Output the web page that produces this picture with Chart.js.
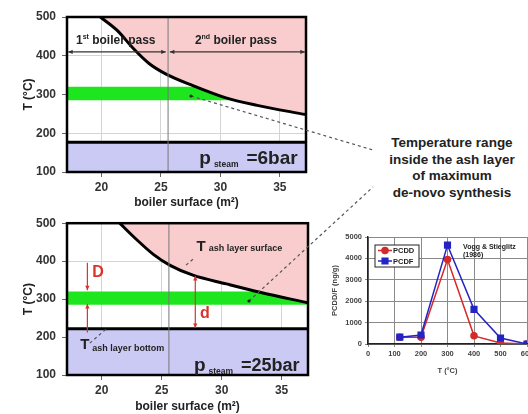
<!DOCTYPE html>
<html>
<head>
<meta charset="utf-8">
<script src="https://cdn.jsdelivr.net/npm/chart.js@4.4.0/dist/chart.umd.min.js"></script>
<style>
  html, body { margin: 0; padding: 0; background: #fff; }
  body { width: 528px; height: 414px; overflow: hidden; position: relative; font-family: 'Liberation Sans', Arial, sans-serif; }
  .box { position: absolute; }
  #note { position: absolute; left: 372px; top: 135px; width: 160px; text-align: center; font-weight: bold; font-size: 13.5px; line-height: 16.5px; color: #222; }
  #links { position: absolute; left: 0; top: 0; pointer-events: none; }
</style>
</head>
<body>
<div class="box" style="left:0;top:0;width:320px;height:214px"><canvas id="top"></canvas></div>
<div class="box" style="left:0;top:210px;width:320px;height:208px"><canvas id="bottom"></canvas></div>
<div class="box" style="left:328px;top:226px;width:210px;height:151px"><canvas id="pcdd"></canvas></div>
<div id="note">Temperature range<br>inside the ash layer<br>of maximum<br>de-novo synthesis</div>
<svg id="links" width="528" height="414">
  <g stroke="#555" stroke-width="1.2" stroke-dasharray="3 3" fill="none">
    <line x1="191" y1="96" x2="373" y2="150"/>
    <line x1="249" y1="301" x2="373" y2="187"/>
  </g>
  <circle cx="191" cy="96" r="1.6" fill="#222"/>
  <circle cx="249" cy="301" r="1.6" fill="#222"/>
</svg>
<script>
// boiler panels
const surfaceRange = [17.1, 37.2];
const surfaceTicks = [20, 25, 30, 35];
const tempTicks = [100, 200, 300, 400, 500];
const passBoundary = 25.6;
const synthesisBand = [285, 320];

// 6 bar
const curve6X = [19.9, 21.3, 22.7, 24.0, 25.35, 27.6, 30.4, 33.1, 37.2];
const curve6T = [500, 466, 418, 380, 354, 324, 292, 272, 248];
const steam6Limit = 177;

// 25 bar
const curve25X = [21.5, 22.9, 24.3, 25.7, 27.6, 30.4, 33.2, 37.2];
const curve25T = [500, 457, 418, 389, 363, 340, 318, 290];
const steam25Limit = 222;

// Vogg & Stieglitz (1986)
const pcddTemp = [120, 200, 300, 400, 500, 600];
const pcddValues = [320, 310, 3950, 380, 50, 0];
const pcdfValues = [320, 420, 4620, 1620, 280, 0];
const pcddYTicks = [0, 1000, 2000, 3000, 4000, 5000];
const pcddXTicks = [0, 100, 200, 300, 400, 500, 600];

const FONT = "'Liberation Sans', Arial, sans-serif";
const PINK = '#f9cdcd';
const LAVENDER = '#cacaf4';
const GREEN = '#1ee61e';
const RED = '#d8342c';

function rich(ctx, parts, x, y, align) {
  let w = 0;
  parts.forEach(p => {
    ctx.font = `bold ${p.size}px ${FONT}`;
    p.w = ctx.measureText(p.t).width + (p.gap || 0);
    w += p.w;
  });
  let cx = align === 'right' ? x - w : align === 'center' ? x - w / 2 : x;
  ctx.textAlign = 'left';
  ctx.textBaseline = 'alphabetic';
  parts.forEach(p => {
    ctx.font = `bold ${p.size}px ${FONT}`;
    ctx.fillStyle = p.color || '#222';
    ctx.fillText(p.t, cx, y + (p.dy || 0));
    cx += p.w;
  });
}

function arrow(ctx, x1, y1, x2, y2, color, startHead, endHead) {
  ctx.save();
  ctx.strokeStyle = color;
  ctx.fillStyle = color;
  ctx.lineWidth = 1.2;
  ctx.setLineDash([]);
  ctx.beginPath();
  ctx.moveTo(x1, y1);
  ctx.lineTo(x2, y2);
  ctx.stroke();
  const head = (hx, hy, ang) => {
    ctx.beginPath();
    ctx.moveTo(hx, hy);
    ctx.lineTo(hx - 5 * Math.cos(ang - 0.45), hy - 5 * Math.sin(ang - 0.45));
    ctx.lineTo(hx - 5 * Math.cos(ang + 0.45), hy - 5 * Math.sin(ang + 0.45));
    ctx.closePath();
    ctx.fill();
  };
  const a = Math.atan2(y2 - y1, x2 - x1);
  if (endHead) head(x2, y2, a);
  if (startHead) head(x1, y1, a + Math.PI);
  ctx.restore();
}

function dashed(ctx, x1, y1, x2, y2) {
  ctx.save();
  ctx.strokeStyle = '#555';
  ctx.lineWidth = 1.2;
  ctx.setLineDash([3, 3]);
  ctx.beginPath();
  ctx.moveTo(x1, y1);
  ctx.lineTo(x2, y2);
  ctx.stroke();
  ctx.restore();
}

function notesPlugin(draw) {
  return {
    id: 'notes',
    afterDatasetsDraw(chart) {
      const { ctx, chartArea: a } = chart;
      ctx.save();
      ctx.strokeStyle = '#000';
      ctx.lineWidth = 2.5;
      ctx.strokeRect(a.left, a.top, a.right - a.left, a.bottom - a.top);
      ctx.restore();
      const px = v => chart.scales.x.getPixelForValue(v);
      const py = v => chart.scales.y.getPixelForValue(v);
      ctx.save();
      draw(ctx, px, py);
      ctx.restore();
    }
  };
}

function panel(id, curveX, curveT, steamLimit, pad, xHeight, draw) {
  const line = (x0, x1, y) => [{ x: x0, y: y }, { x: x1, y: y }];
  return new Chart(document.getElementById(id), {
    type: 'line',
    data: {
      datasets: [
        {
          data: [{ x: passBoundary, y: tempTicks[0] }, { x: passBoundary, y: tempTicks[tempTicks.length - 1] }],
          borderColor: '#777', borderWidth: 1, pointRadius: 0, fill: false
        },
        {
          data: curveX.map((x, i) => ({ x: x, y: curveT[i] })),
          borderColor: '#000', borderWidth: 3, pointRadius: 0,
          cubicInterpolationMode: 'monotone',
          fill: 'end', backgroundColor: PINK
        },
        {
          data: line(surfaceRange[0], surfaceRange[1], steamLimit),
          borderColor: '#000', borderWidth: 3, pointRadius: 0,
          fill: 'start', backgroundColor: LAVENDER
        },
        {
          data: line(surfaceRange[0], surfaceRange[1], synthesisBand[1]),
          borderColor: 'rgba(0,0,0,0)', borderWidth: 0, pointRadius: 0,
          fill: { value: synthesisBand[0] }, backgroundColor: GREEN
        }
      ]
    },
    options: {
      responsive: true,
      maintainAspectRatio: false,
      animation: false,
      layout: { padding: pad },
      plugins: { legend: { display: false }, tooltip: { enabled: false } },
      scales: {
        x: {
          type: 'linear',
          min: surfaceRange[0], max: surfaceRange[1],
          afterBuildTicks: s => { s.ticks = surfaceTicks.map(v => ({ value: v })); },
          afterFit: s => { s.height = xHeight; },
          grid: { color: '#d4d4d4', tickLength: 5, tickColor: '#666' },
          border: { color: '#000', width: 2 },
          ticks: { color: '#333', padding: 3, font: { family: FONT, size: 12, weight: 'bold' } },
          title: { display: true, text: 'boiler surface (m²)', color: '#222', font: { family: FONT, size: 12, weight: 'bold' } }
        },
        y: {
          min: tempTicks[0], max: tempTicks[tempTicks.length - 1],
          afterBuildTicks: s => { s.ticks = tempTicks.map(v => ({ value: v })); },
          afterFit: s => { s.width = 50; },
          grid: { color: '#d4d4d4', tickLength: 5, tickColor: '#666' },
          border: { color: '#000', width: 2 },
          ticks: { color: '#333', padding: 6, font: { family: FONT, size: 12, weight: 'bold' } },
          title: { display: true, text: 'T (°C)', color: '#222', font: { family: FONT, size: 12, weight: 'bold' } }
        }
      }
    },
    plugins: [notesPlugin(draw)]
  });
}

panel('top', curve6X, curve6T, steam6Limit, { top: 17, right: 14, left: 17, bottom: 0 }, 42, (ctx, px, py) => {
  rich(ctx, [{ t: '1', size: 12 }, { t: 'st', size: 7, dy: -5 }, { t: ' boiler pass', size: 12 }], px(21.2), py(440) + 4, 'center');
  rich(ctx, [{ t: '2', size: 12 }, { t: 'nd', size: 7, dy: -5 }, { t: ' boiler pass', size: 12 }], px(31.3), py(440) + 4, 'center');
  arrow(ctx, px(17.2), py(410), px(25.4), py(410), '#333', true, true);
  arrow(ctx, px(25.75), py(410), px(37.1), py(410), '#333', true, true);
  rich(ctx, [{ t: 'p', size: 19, gap: 3 }, { t: 'steam', size: 8.5, dy: 3, gap: 8 }, { t: '=6bar', size: 19 }], px(36.5), py(120), 'right');
});

panel('bottom', curve25X, curve25T, steam25Limit, { top: 12, right: 12, left: 17, bottom: 0 }, 43, (ctx, px, py) => {
  rich(ctx, [{ t: 'T', size: 15, gap: 3 }, { t: 'ash layer surface', size: 9 }], px(27.9), py(427), 'left');
  dashed(ctx, px(27.6), py(405), px(26.9), py(386));
  rich(ctx, [{ t: 'T', size: 15, gap: 3 }, { t: 'ash layer bottom', size: 9, dy: 2 }], px(18.2), py(168), 'left');
  dashed(ctx, px(19.0), py(184), px(20.4), py(222));
  arrow(ctx, px(18.8), py(396), px(18.8), py(323), RED, false, true);
  arrow(ctx, px(18.8), py(212), px(18.8), py(287), RED, false, true);
  arrow(ctx, px(27.8), py(361), px(27.8), py(224), RED, true, true);
  rich(ctx, [{ t: 'D', size: 16, color: RED }], px(19.2), py(357), 'left');
  rich(ctx, [{ t: 'd', size: 16, color: RED }], px(28.2), py(250), 'left');
  rich(ctx, [{ t: 'p', size: 19, gap: 3 }, { t: 'steam', size: 8.5, dy: 3, gap: 8 }, { t: '=25bar', size: 18 }], px(36.5), py(110), 'right');
});

// small PCDD/F chart
const pcddLegend = {
  id: 'pcddLegend',
  afterDatasetsDraw(chart) {
    const { ctx, chartArea: a } = chart;
    ctx.save();
    ctx.fillStyle = '#fff';
    ctx.strokeStyle = '#222';
    ctx.lineWidth = 1;
    ctx.fillRect(a.left + 7, a.top + 8, 44, 22);
    ctx.strokeRect(a.left + 7, a.top + 8, 44, 22);
    chart.data.datasets.forEach((ds, i) => {
      const y = a.top + 13.5 + i * 10.5;
      ctx.strokeStyle = ds.borderColor;
      ctx.fillStyle = ds.borderColor;
      ctx.lineWidth = 1.5;
      ctx.beginPath();
      ctx.moveTo(a.left + 10, y);
      ctx.lineTo(a.left + 24, y);
      ctx.stroke();
      Chart.helpers.drawPoint(ctx, { pointStyle: ds.pointStyle, radius: ds.pointRadius, borderWidth: 1 }, a.left + 17, y);
      ctx.fillStyle = '#222';
      ctx.font = `bold 7.5px ${FONT}`;
      ctx.textBaseline = 'middle';
      ctx.fillText(ds.label, a.left + 25, y + 0.5);
    });
    ctx.font = `bold 7px ${FONT}`;
    ctx.fillStyle = '#222';
    ctx.textBaseline = 'middle';
    ctx.fillText('Vogg & Stieglitz', a.left + 95, a.top + 10);
    ctx.fillText('(1986)', a.left + 95, a.top + 18);
    ctx.restore();
  }
};

new Chart(document.getElementById('pcdd'), {
  type: 'line',
  data: {
    datasets: [
      {
        label: 'PCDD', order: 1,
        data: pcddTemp.map((t, i) => ({ x: t, y: pcddValues[i] })),
        borderColor: '#d42a2a', backgroundColor: '#d42a2a', borderWidth: 1.5,
        pointStyle: 'circle', pointRadius: 3, tension: 0
      },
      {
        label: 'PCDF', order: 0,
        data: pcddTemp.map((t, i) => ({ x: t, y: pcdfValues[i] })),
        borderColor: '#2424c4', backgroundColor: '#2424c4', borderWidth: 1.5,
        pointStyle: 'rect', pointRadius: 4, tension: 0
      }
    ]
  },
  options: {
    responsive: true,
    maintainAspectRatio: false,
    animation: false,
    layout: { padding: { top: 11, right: 11, left: 0, bottom: 0 } },
    plugins: { legend: { display: false }, tooltip: { enabled: false } },
    scales: {
      x: {
        type: 'linear', min: 0, max: 600,
        afterBuildTicks: s => { s.ticks = pcddXTicks.map(v => ({ value: v })); },
        afterFit: s => { s.height = 33; },
        grid: { color: '#8a8a8a', tickLength: 3 },
        border: { color: '#222', width: 1.5 },
        ticks: { color: '#444', padding: 2, callback: v => String(v), font: { family: FONT, size: 7.5, weight: 'bold' } },
        title: { display: true, text: 'T (°C)', color: '#444', padding: { top: 2, bottom: 2 }, font: { family: FONT, size: 7.5, weight: 'bold' } }
      },
      y: {
        min: 0, max: 5000,
        afterBuildTicks: s => { s.ticks = pcddYTicks.map(v => ({ value: v })); },
        afterFit: s => { s.width = 40; },
        grid: { color: '#8a8a8a', tickLength: 3 },
        border: { color: '#222', width: 1.5 },
        ticks: { color: '#444', padding: 3, callback: v => String(v), font: { family: FONT, size: 7.5, weight: 'bold' } },
        title: { display: true, text: 'PCDD/F (ng/g)', color: '#444', padding: { top: 2, bottom: 2 }, font: { family: FONT, size: 7.5, weight: 'bold' } }
      }
    }
  },
  plugins: [pcddLegend]
});
</script>
</body>
</html>
